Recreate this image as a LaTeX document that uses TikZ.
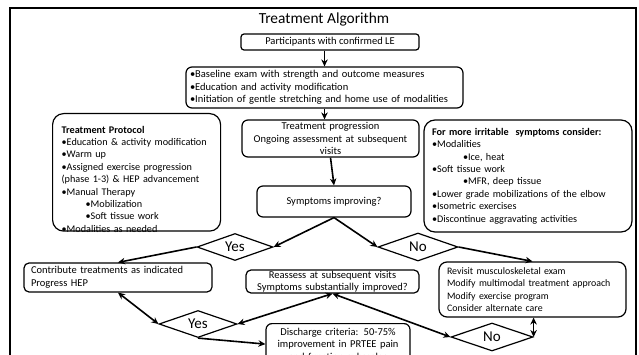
\documentclass[tikz,border=0pt]{standalone}
\usepackage{fontspec}
\setmainfont{Carlito}
\usetikzlibrary{arrows.meta,shapes.geometric}
\newcommand{\bul}{\textbullet}
\tikzset{
    procbox/.style={
    rectangle,rounded corners=3pt,draw=black,line width=1.2pt,font=\fontsize{10.5}{12.5}\selectfont,inner sep=0pt
    },
    listbox/.style={
    rectangle,rounded corners=11pt,draw=black,line width=1.2pt,font=\fontsize{10.2}{12.4}\selectfont,align=left
    },
    decision/.style={
    diamond,aspect=2.8,draw=black,line width=1.2pt,inner sep=0pt,font=\fontsize{15}{15}\selectfont
    },
    flow/.style={
    line width=1.6pt,>={Stealth[length=7pt,width=6.5pt]}
    },
}

\begin{document}
\begin{tikzpicture}[x=1pt,y=-1pt]
   \useasboundingbox (0,0) rectangle (639,355);
   \draw[line width=2.6pt] (10,370) -- (10,8) -- (636,8) -- (636,370);
   \node (title) at (324,19) {\fontsize{15.4}{16}\selectfont Treatment Algorithm};

   \node[procbox,minimum width=178pt,minimum height=16pt] (participants) at (330,42) {Participants with confirmed LE};
   \node[procbox,rounded corners=6pt,minimum width=277pt,minimum height=41pt,text width=269pt,align=left] (baseline) at (324.5,87.5)
      {\bul Baseline exam with strength and outcome measures\\\bul Education and activity modification\\\bul Initiation of gentle stretching and home use of modalities};
   \node[procbox,rounded corners=6pt,minimum width=177pt,minimum height=37pt,text width=171pt,align=center] (progression) at (330.5,138.5)
      {Treatment progression\\Ongoing assessment at subsequent\\visits};
   \node[procbox,rounded corners=6pt,minimum width=154pt,minimum height=31pt] (symptoms) at (334,201.5) {Symptoms improving?};

   \node[listbox,anchor=north west,inner xsep=9pt,inner ysep=4pt,text width=150pt,text height=15.5pt,text depth=94pt] (protocol) at (52,113)
      {\textbf{Treatment Protocol}\\\bul Education \& activity modification\\\bul Warm up\\\bul Assigned exercise progression\\(phase 1-3) \& HEP advancement\\\bul Manual Therapy\\\hspace*{24pt}\bul Mobilization\\\hspace*{24pt}\bul Soft tissue work\\\bul Modalities as needed};
   \node[listbox,inner xsep=8pt,minimum width=208pt,minimum height=112pt,text width=192pt] (irritable) at (528,176)
      {\textbf{For more irritable\ \ symptoms consider:}\\\bul Modalities\\\hspace*{31pt}\bul Ice, heat\\\bul Soft tissue work\\\hspace*{31pt}\bul MFR, deep tissue\\\bul Lower grade mobilizations of the elbow\\\bul Isometric exercises\\\bul Discontinue aggravating activities};

   \node[decision,minimum width=76pt,minimum height=27pt] (yesA) at (235,247) {Yes};
   \node[decision,minimum width=80pt,minimum height=28pt] (noA) at (418,247) {No};

   \node[procbox,rounded corners=5pt,minimum width=188pt,minimum height=29pt,text width=174pt,align=left] (contribute) at (118,277.5)
      {Contribute treatments as indicated\\Progress HEP};
   \node[procbox,rounded corners=5pt,minimum width=173pt,minimum height=23pt,text width=167pt,align=center,font=\fontsize{10.5}{12}\selectfont] (reassess) at (332.5,281.5)
      {Reassess at subsequent visits\\Symptoms substantially improved?};
   \node[procbox,rounded corners=8pt,minimum width=187pt,minimum height=55pt,text width=171pt,align=left,font=\fontsize{9.9}{12.3}\selectfont] (revisit) at (532.5,289.5)
      {Revisit musculoskeletal exam\\Modify multimodal treatment approach\\Modify exercise program\\Consider alternate care};

   \node[decision,minimum width=78pt,minimum height=27pt] (yesB) at (198,324) {Yes};
   \node[decision,minimum width=82pt,minimum height=28pt] (noB) at (492,337) {No};
   \node[procbox,rounded corners=6pt,anchor=north,minimum width=144pt,minimum height=41pt,text width=136pt,align=center] (discharge) at (338,323)
      {Discharge criteria: 50-75\%\\improvement in PRTEE pain\\and function subscales};

  \path[flow,->]
    (baseline.north |- participants.south) edge (baseline.north)
    (baseline.south) edge (baseline.south |- progression.north)
    (progression.south) edge (symptoms.north)
    (symptoms.south) edge (yesA.east)
                     edge (noA.west)
    (yesA.west) edge (contribute.north)
    (noA.east) edge (revisit.north)
    (yesB.south) edge (discharge.west);
  \path[flow,<->]
    (contribute.south) edge (yesB.west)
    (yesB.east) edge (reassess.south)
    (reassess.south) edge (noB.west)
    (noB.east) edge (noB.east |- revisit.south);
\end{tikzpicture}
\end{document}
